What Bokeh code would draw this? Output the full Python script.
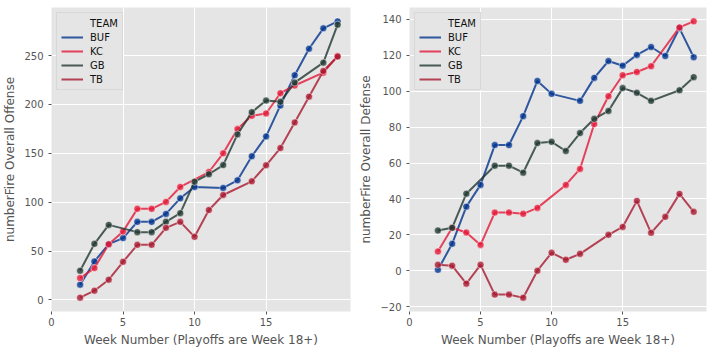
from bokeh.plotting import figure
from bokeh.layouts import row
from bokeh.models import FixedTicker, Legend, LegendItem, Range1d, CustomJSTickFormatter
from bokeh.embed import file_html
from bokeh.resources import INLINE

teams = ["BUF", "KC", "GB", "TB"]
team_colors = ["#00338D", "#E31837", "#203731", "#A71930"]

buf_weeks = [2, 3, 4, 5, 6, 7, 8, 9, 10, 12, 13, 14, 15, 16, 17, 18, 19, 20]
buf_off = [15.6, 39.4, 57.1, 63.3, 79.9, 79.9, 88.0, 104.0, 115.6, 114.6, 122.4, 147.0, 167.3, 199.0, 229.9, 257.0, 277.9, 285.0]
buf_def = [0.5, 15.0, 35.7, 47.8, 70.0, 70.0, 86.1, 105.7, 98.5, 94.6, 107.4, 116.8, 114.2, 120.2, 124.6, 119.6, 135.0, 118.9]

kc_weeks = [2, 3, 4, 5, 6, 7, 8, 9, 11, 12, 13, 14, 15, 16, 17, 19, 20]
kc_off = [22.4, 32.6, 57.0, 70.0, 93.2, 93.2, 100.3, 115.6, 130.9, 150.0, 174.8, 188.4, 190.8, 211.5, 219.4, 232.5, 249.5]
kc_def = [10.7, 23.9, 21.3, 14.4, 32.4, 32.4, 31.7, 35.0, 47.8, 56.7, 81.7, 97.2, 108.9, 110.7, 113.9, 135.5, 138.9]

gb_weeks = [2, 3, 4, 6, 7, 8, 9, 10, 11, 12, 13, 14, 15, 16, 17, 19, 20]
gb_off = [29.9, 57.4, 76.8, 69.4, 69.4, 79.9, 88.8, 121.0, 128.6, 138.0, 169.4, 192.1, 204.0, 202.7, 222.4, 242.8, 281.6]
gb_def = [22.4, 23.9, 42.9, 58.5, 58.5, 54.6, 71.1, 71.8, 66.7, 76.7, 84.6, 89.0, 101.7, 99.1, 94.6, 100.5, 107.8]

tb_weeks = [2, 3, 4, 5, 6, 7, 8, 9, 10, 11, 12, 14, 15, 16, 17, 18, 19, 20]
tb_off = [2.3, 9.5, 20.7, 39.0, 56.4, 56.4, 73.8, 79.9, 64.6, 92.0, 107.4, 121.4, 137.8, 155.4, 181.6, 208.0, 234.3, 249.0]
tb_def = [3.3, 2.8, -7.2, 3.3, -13.3, -13.3, -15.0, 0.0, 10.0, 6.1, 9.4, 20.0, 24.4, 38.9, 21.1, 30.0, 42.8, 32.8]

x_ticks = [0, 5, 10, 15]
off_ticks = [0, 50, 100, 150, 200, 250]
def_ticks = [-20, 0, 20, 40, 60, 80, 100, 120, 140]
x_label = "Week Number (Playoffs are Week 18+)"

weeks_all = [buf_weeks, kc_weeks, gb_weeks, tb_weeks]
off_all = [buf_off, kc_off, gb_off, tb_off]
def_all = [buf_def, kc_def, gb_def, tb_def]

FONT = "DejaVu Sans"
TXT = "#555555"


def make_fig(ylabel, series, yr, yticks, bl, br):
    p = figure(width=356, height=352, output_backend="svg", toolbar_location=None,
               x_range=Range1d(0, 20.9), y_range=Range1d(*yr),
               min_border_left=bl, min_border_right=br, min_border_top=7, min_border_bottom=41)
    p.background_fill_color = "#E5E5E5"
    p.border_fill_color = "white"
    p.outline_line_color = None
    p.xaxis.ticker = FixedTicker(ticks=x_ticks)
    p.yaxis.ticker = FixedTicker(ticks=yticks)
    p.yaxis.formatter = CustomJSTickFormatter(code="return tick < 0 ? '\u2212' + Math.abs(tick) : String(tick);")
    p.xaxis.axis_label = x_label
    p.yaxis.axis_label = ylabel
    for ax in [p.xaxis, p.yaxis]:
        ax.axis_line_color = None
        ax.major_tick_line_color = TXT
        ax.major_tick_out = 3
        ax.major_tick_in = 0
        ax.minor_tick_line_color = None
        ax.major_label_text_color = TXT
        ax.major_label_text_font = FONT
        ax.major_label_text_font_size = "10px"
        ax.axis_label_text_color = TXT
        ax.axis_label_text_font = FONT
        ax.axis_label_text_font_size = "12px"
        ax.axis_label_text_font_style = "normal"
        ax.axis_label_standoff = 4
    p.xaxis.major_label_standoff = 3
    p.yaxis.major_label_standoff = 5
    p.grid.grid_line_color = "white"
    p.grid.grid_line_width = 1

    dummy = p.line(x=[], y=[], line_alpha=0)
    items = [LegendItem(label="TEAM", renderers=[dummy])]
    for team, col, wk, vals in zip(teams, team_colors, weeks_all, series):
        ln = p.line(wk, vals, line_color=col, line_width=2, line_alpha=0.8)
        p.scatter(wk, vals, size=7, fill_color=col, fill_alpha=0.8,
                  line_color="white", line_width=0.6, line_alpha=0.8)
        items.append(LegendItem(label=team, renderers=[ln]))
    leg = Legend(items=items, location="top_left")
    leg.label_text_font = FONT
    leg.label_text_font_size = "10px"
    leg.label_text_color = "#111111"
    leg.label_height = 12
    leg.glyph_height = 12
    leg.glyph_width = 22
    leg.label_standoff = 7
    leg.spacing = 2
    leg.padding = 4
    leg.margin = 5
    leg.background_fill_color = "#E5E5E5"
    leg.background_fill_alpha = 1
    leg.border_line_color = "#CCCCCC"
    leg.border_line_width = 1
    p.add_layout(leg)
    return p


p1 = make_fig("numberFire Overall Offense", off_all, (-11.8, 299.2), off_ticks, 51, 6)
p2 = make_fig("numberFire Overall Defense", def_all, (-22.7, 146.6), def_ticks, 50, 6)
layout = row(p1, p2)

open("out.html", "w").write(file_html(layout, INLINE))
